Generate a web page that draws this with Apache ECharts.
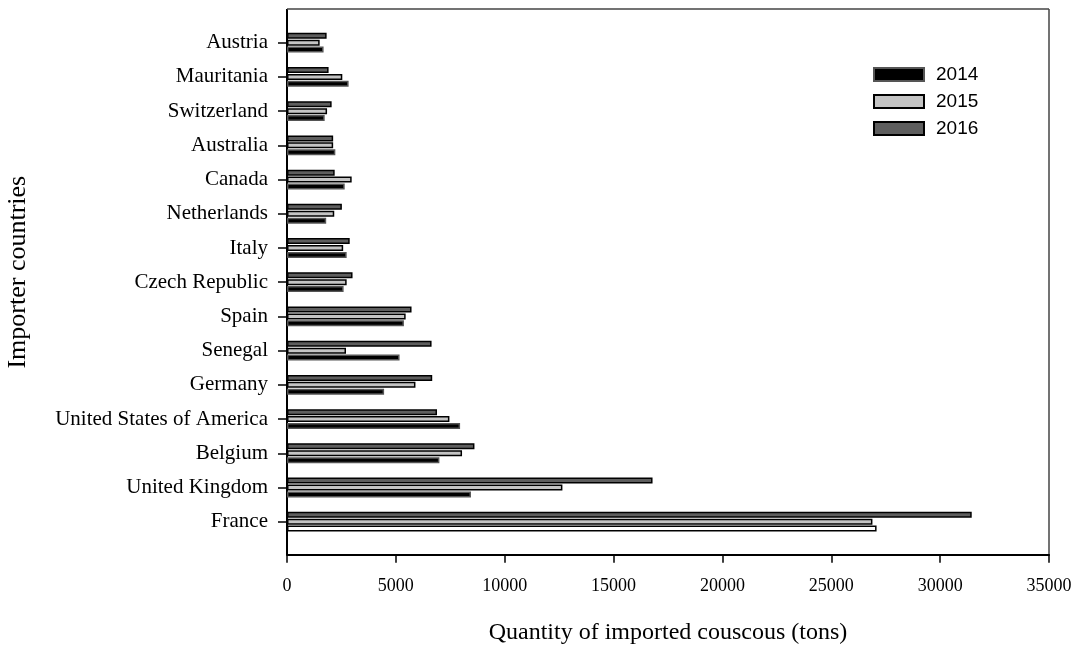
<!DOCTYPE html>
<html>
<head>
<meta charset="utf-8">
<script src="https://cdn.jsdelivr.net/npm/echarts@6/dist/echarts.min.js"></script>
<style>
  html, body { margin: 0; padding: 0; background: #fff; }
  #chart { width: 1078px; height: 650px; }
</style>
</head>
<body>
<div id="chart"></div>
<script>
// countries, top to bottom as in the figure
var countries = ['Austria', 'Mauritania', 'Switzerland', 'Australia', 'Canada', 'Netherlands', 'Italy',
  'Czech Republic', 'Spain', 'Senegal', 'Germany', 'United States of America', 'Belgium',
  'United Kingdom', 'France'];

var years = ['2014', '2015', '2016'];

var v2014 = [1680, 2830, 1730, 2220, 2650, 1800, 2740, 2600, 5370, 5170, 4460, 7950, 7000, 8450, 27080];
var v2015 = [1500, 2540, 1840, 2120, 2970, 2170, 2580, 2740, 5450, 2710, 5900, 7460, 8040, 12650, 26890];
var v2016 = [1820, 1910, 2050, 2120, 2190, 2520, 2880, 3010, 5720, 6640, 6670, 6890, 8610, 16790, 31450];

var xTicks = [0, 5000, 10000, 15000, 20000, 25000, 30000, 35000];

var myChart = echarts.init(document.getElementById('chart'));

var serif = '"Liberation Serif", "Times New Roman", serif';

function bar(name, values, fill, border) {
    return {
        name: name,
        type: 'bar',
        barWidth: 6,
        barGap: '15%',
        itemStyle: { color: fill, borderColor: border, borderWidth: 1.5 },
        data: values.map(function (v, i) {
            // France 2014 is drawn hollow in the original figure
            if (name === '2014' && countries[i] === 'France') {
                return { value: v, itemStyle: { color: '#fff', borderColor: '#000' } };
            }
            return v;
        })
    };
}

var option = {
    animation: false,
    backgroundColor: '#fff',
    grid: { left: 287, right: 29, top: 25.6, bottom: 111.2, containLabel: false, outerBoundsMode: 'none' },
    legend: {
        orient: 'vertical',
        left: 873,
        top: 65,
        padding: 0,
        icon: 'rect',
        itemWidth: 50,
        itemHeight: 13,
        itemGap: 8,
        data: years,
        textStyle: { fontFamily: '"Liberation Sans", Arial, sans-serif', fontSize: 19, color: '#000', padding: [0, 0, 0, 7] }
    },
    xAxis: {
        type: 'value',
        min: 0,
        max: 35000,
        interval: 5000,
        offset: 16,
        name: 'Quantity of imported couscous (tons)',
        nameLocation: 'middle',
        nameGap: 66,
        nameTextStyle: { fontFamily: serif, fontSize: 24, color: '#000' },
        axisLine: { show: true, lineStyle: { color: '#000', width: 2 } },
        axisTick: { show: true, length: 8, lineStyle: { color: '#000', width: 1.5 } },
        axisLabel: { fontFamily: serif, fontSize: 18, color: '#000', margin: 22,
            formatter: function (v) { return xTicks.indexOf(v) >= 0 ? String(v) : ''; } },
        splitLine: { show: false }
    },
    yAxis: {
        type: 'category',
        inverse: true,
        data: countries,
        name: 'Importer countries',
        nameLocation: 'middle',
        nameGap: 256,
        nameRotate: 90,
        nameTextStyle: { fontFamily: serif, fontSize: 26, color: '#000', padding: [0, 0, 0, 20] },
        axisLine: { show: false },
        axisTick: { show: true, alignWithLabel: true, length: 9, lineStyle: { color: '#000', width: 1.5 } },
        axisLabel: { fontFamily: serif, fontSize: 21, color: '#000', margin: 19 },
        splitLine: { show: false }
    },
    graphic: [
        { type: 'line', shape: { x1: 287, y1: 9, x2: 287, y2: 555 }, style: { stroke: '#000', lineWidth: 2 } },
        { type: 'line', shape: { x1: 287, y1: 9, x2: 1049, y2: 9 }, style: { stroke: '#444', lineWidth: 1.5 } },
        { type: 'line', shape: { x1: 1049, y1: 9, x2: 1049, y2: 555 }, style: { stroke: '#444', lineWidth: 1.5 } }
    ],
    series: [
        bar('2016', v2016, '#5e5e5e', '#000'),
        bar('2015', v2015, '#c4c4c4', '#000'),
        bar('2014', v2014, '#000', '#555')
    ]
};

myChart.setOption(option);
</script>
</body>
</html>
